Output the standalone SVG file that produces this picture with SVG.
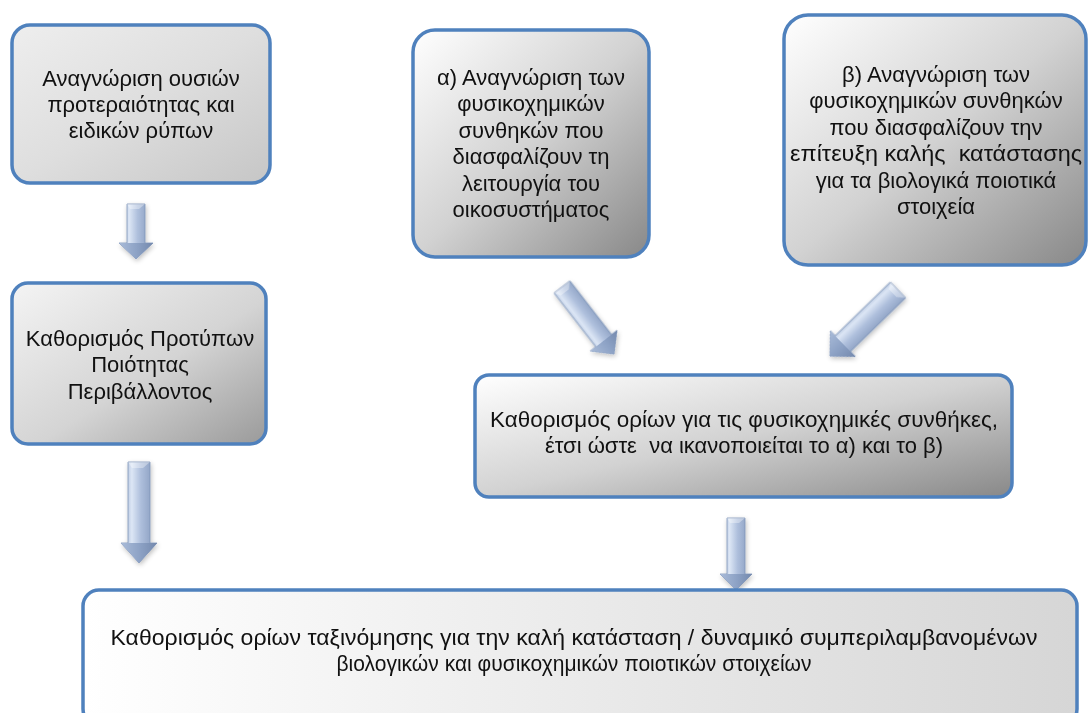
<svg xmlns="http://www.w3.org/2000/svg" width="1088" height="713" viewBox="0 0 1088 713">
<defs>
<linearGradient id="gBox1" x1="0" y1="0" x2="1" y2="1"><stop offset="0" stop-color="#eeeeee"/><stop offset="0.5" stop-color="#dedede"/><stop offset="1" stop-color="#c6c6c6"/></linearGradient>
<linearGradient id="gBox2" x1="0" y1="0" x2="1" y2="1"><stop offset="0" stop-color="#f4f4f4"/><stop offset="0.55" stop-color="#d4d4d4"/><stop offset="1" stop-color="#9a9a9a"/></linearGradient>
<linearGradient id="gDark" x1="0" y1="0" x2="1" y2="1"><stop offset="0" stop-color="#ffffff"/><stop offset="0.5" stop-color="#d2d2d2"/><stop offset="1" stop-color="#888888"/></linearGradient>
<linearGradient id="gBottom" x1="0" y1="0" x2="1" y2="0"><stop offset="0" stop-color="#ffffff"/><stop offset="1" stop-color="#d6d6d6"/></linearGradient>
<linearGradient id="gArrow" x1="0" y1="0" x2="1" y2="0"><stop offset="0" stop-color="#8ea3c6"/><stop offset="0.3" stop-color="#dce6f5"/><stop offset="0.55" stop-color="#aebfdc"/><stop offset="1" stop-color="#7f94b8"/></linearGradient>
<linearGradient id="gHead" x1="0" y1="0" x2="1" y2="0"><stop offset="0" stop-color="#a9bbd8"/><stop offset="0.5" stop-color="#8ea3c6"/><stop offset="1" stop-color="#7489ad"/></linearGradient>
<filter id="sh" x="-50%" y="-50%" width="200%" height="200%"><feGaussianBlur in="SourceAlpha" stdDeviation="2.5"/><feOffset dx="1" dy="2" result="b"/><feComponentTransfer><feFuncA type="linear" slope="0.25"/></feComponentTransfer><feMerge><feMergeNode/><feMergeNode in="SourceGraphic"/></feMerge></filter>
</defs>
<style>
.box{stroke:#4f81bd;stroke-width:3.5}
.t{font-family:"Liberation Sans","Noto Sans",sans-serif;font-size:22px;fill:#111;text-anchor:middle}
.hl{fill:#ffffff;opacity:0.35}
</style>
<rect width="1088" height="713" fill="#ffffff"/>

<g id="connectors" filter="url(#sh)">
  <g transform="translate(136,204)">
    <polygon points="-9,0 9,0 9,39 17,39 0,55 -17,39 -9,39" fill="url(#gArrow)" stroke="#7f94b8" stroke-width="0.8"/>
    <polygon points="-17,39 17,39 0,55" fill="url(#gHead)"/>
    <polygon points="-9,0 9,0 3,5 -6,5" class="hl"/>
  </g>
  <g transform="translate(139,462)">
    <polygon points="-11,0 11,0 11,81 18,81 0,101 -18,81 -11,81" fill="url(#gArrow)" stroke="#7f94b8" stroke-width="0.8"/>
    <polygon points="-18,81 18,81 0,101" fill="url(#gHead)"/>
    <polygon points="-11,0 11,0 4,6 -7,6" class="hl"/>
  </g>
  <g transform="translate(736,518)">
    <polygon points="-9,0 9,0 9,56 16,56 0,72 -16,56 -9,56" fill="url(#gArrow)" stroke="#7f94b8" stroke-width="0.8"/>
    <polygon points="-16,56 16,56 0,72" fill="url(#gHead)"/>
    <polygon points="-9,0 9,0 3,5 -6,5" class="hl"/>
  </g>
  <g transform="translate(562,287) rotate(-37.8)">
    <polygon points="-10,0 10,0 10,68 17,68 0,85 -17,68 -10,68" fill="url(#gArrow)" stroke="#7f94b8" stroke-width="0.8"/>
    <polygon points="-17,68 17,68 0,85" fill="url(#gHead)"/>
    <polygon points="-10,0 10,0 4,6 -6,6" class="hl"/>
  </g>
  <g transform="translate(898,290) rotate(45.8)">
    <polygon points="-11,0 11,0 11,77 18,77 0,95 -18,77 -11,77" fill="url(#gArrow)" stroke="#7f94b8" stroke-width="0.8"/>
    <polygon points="-18,77 18,77 0,95" fill="url(#gHead)"/>
    <polygon points="-11,0 11,0 4,6 -7,6" class="hl"/>
  </g>
</g>

<g id="node-priority">
  <rect class="box" x="12" y="25" width="258" height="158" rx="18" fill="url(#gBox1)"/>
  <text class="t" x="141" y="86">Αναγνώριση ουσιών</text>
  <text class="t" x="141" y="112">προτεραιότητας και</text>
  <text class="t" x="141" y="138">ειδικών ρύπων</text>
</g>

<g id="node-a">
  <rect class="box" x="413" y="30" width="236" height="227" rx="22" fill="url(#gDark)"/>
  <text class="t" x="531" y="85">α) Αναγνώριση των</text>
  <text class="t" x="531" y="111">φυσικοχημικών</text>
  <text class="t" x="531" y="138">συνθηκών που</text>
  <text class="t" x="531" y="164">διασφαλίζουν τη</text>
  <text class="t" x="531" y="191">λειτουργία του</text>
  <text class="t" x="531" y="217">οικοσυστήματος</text>
</g>

<g id="node-b">
  <rect class="box" x="784" y="15" width="302" height="250" rx="24" fill="url(#gDark)"/>
  <text class="t" x="936" y="82">β) Αναγνώριση των</text>
  <text class="t" x="936" y="108">φυσικοχημικών συνθηκών</text>
  <text class="t" x="936" y="135">που διασφαλίζουν την</text>
  <text class="t" x="936" y="161" xml:space="preserve" textLength="292" lengthAdjust="spacingAndGlyphs">επίτευξη καλής  κατάστασης</text>
  <text class="t" x="936" y="188">για τα βιολογικά ποιοτικά</text>
  <text class="t" x="936" y="214">στοιχεία</text>
</g>

<g id="node-standards">
  <rect class="box" x="12" y="283" width="254" height="161" rx="16" fill="url(#gBox2)"/>
  <text class="t" x="140" y="346">Καθορισμός Προτύπων</text>
  <text class="t" x="140" y="372">Ποιότητας</text>
  <text class="t" x="140" y="399">Περιβάλλοντος</text>
</g>

<g id="node-limits">
  <rect class="box" x="475" y="375" width="537" height="122" rx="14" fill="url(#gDark)"/>
  <text class="t" x="744" y="427" textLength="508" lengthAdjust="spacingAndGlyphs">Καθορισμός ορίων για τις φυσικοχημικές συνθήκες,</text>
  <text class="t" x="744" y="453" xml:space="preserve">έτσι ώστε  να ικανοποιείται το α) και το β)</text>
</g>

<g id="node-classification">
  <rect class="box" x="83" y="590" width="994" height="135" rx="16" fill="url(#gBottom)"/>
  <text class="t" x="574" y="645" textLength="927" lengthAdjust="spacingAndGlyphs">Καθορισμός ορίων ταξινόμησης για την καλή κατάσταση / δυναμικό συμπεριλαμβανομένων</text>
  <text class="t" x="574" y="671" textLength="475" lengthAdjust="spacingAndGlyphs">βιολογικών και φυσικοχημικών ποιοτικών στοιχείων</text>
</g>
</svg>
